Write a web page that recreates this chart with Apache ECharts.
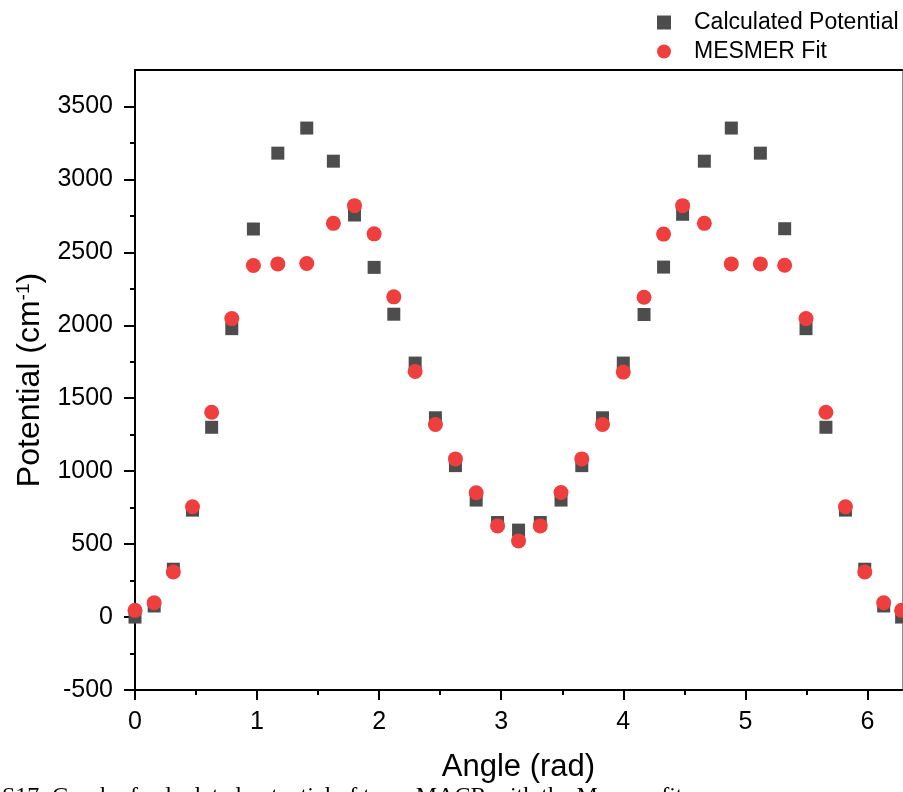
<!DOCTYPE html>
<html>
<head>
<meta charset="utf-8">
<script src="https://cdn.jsdelivr.net/npm/echarts@6/dist/echarts.min.js"></script>
<style>
  html, body { margin: 0; padding: 0; background: #ffffff; }
  #chart { width: 903px; height: 792px; }
</style>
</head>
<body>
<div id="chart"></div>
<script>
// Torsion angle (rad) of each scan point
const angles = [0, 0.157, 0.314, 0.471, 0.628, 0.793, 0.970, 1.170, 1.407, 1.625, 1.798, 1.959,
  2.120, 2.295, 2.461, 2.625, 2.795, 2.970, 3.142, 3.320, 3.490, 3.660, 3.830, 4.000, 4.170,
  4.330, 4.486, 4.664, 4.885, 5.123, 5.322, 5.497, 5.660, 5.820, 5.978, 6.133, 6.280];

// Calculated hindered-rotor potential (cm-1)
const calculated = [0, 76, 328, 733, 1301, 1977, 2660, 3180, 3352, 3125, 2756, 2397,
  2076, 1741, 1366, 1038, 802, 648, 596, 648, 802, 1038, 1366, 1741, 2074,
  2399, 2761, 3125, 3352, 3180, 2662, 1977, 1301, 733, 328, 76, 0];

// MESMER fitted potential (cm-1)
const mesmerFit = [46, 98, 309, 756, 1404, 2046, 2410, 2421, 2424, 2699, 2820, 2627,
  2195, 1684, 1320, 1084, 852, 625, 522, 625, 854, 1084, 1320, 1679, 2192,
  2625, 2820, 2699, 2421, 2421, 2412, 2046, 1404, 756, 309, 98, 46];

const seriesNames = ['Calculated Potential', 'MESMER Fit'];
const xTicks = [0, 1, 2, 3, 4, 5, 6];
const xMinorTicks = [0.5, 1.5, 2.5, 3.5, 4.5, 5.5];
const yTicks = [-500, 0, 500, 1000, 1500, 2000, 2500, 3000, 3500];
const yMinorTicks = [-250, 250, 750, 1250, 1750, 2250, 2750, 3250];
const captionText = 'S17: Graph of calculated potential of trans MACR with the Mesmer fit';

const X_MIN = 0, X_MAX = 2 * Math.PI, Y_MIN = -500, Y_MAX = 3750;
const FONT = '"Liberation Sans", Arial, sans-serif';

const chart = echarts.init(document.getElementById('chart'), null, { renderer: 'canvas' });

const pairs = (xs, ys) => xs.map((x, i) => [x, ys[i]]);
const plain = v => String(v);

const hidden = { show: false };

chart.setOption({
  animation: false,
  backgroundColor: '#ffffff',
  grid: { left: 135, right: 1, top: 70, bottom: 102, containLabel: false },
  legend: {
    orient: 'vertical',
    left: 652,
    top: 6,
    itemWidth: 14,
    itemHeight: 14,
    itemGap: 6,
    textStyle: { fontFamily: FONT, fontSize: 23, color: '#000', padding: [0, 0, 0, 18] },
    data: [
      { name: seriesNames[0], icon: 'rect' },
      { name: seriesNames[1], icon: 'circle' }
    ]
  },
  xAxis: [
    {
      type: 'value', min: X_MIN, max: X_MAX, position: 'bottom',
      axisLine: { show: true, onZero: false, lineStyle: { color: '#000', width: 2 } },
      axisTick: { show: true, customValues: xTicks, length: 10, lineStyle: { color: '#000', width: 2 } },
      axisLabel: { customValues: xTicks, formatter: plain, fontFamily: FONT, fontSize: 25, color: '#000', margin: 20 },
      splitLine: hidden,
      name: 'Angle (rad)', nameLocation: 'middle', nameGap: 62,
      nameTextStyle: { fontFamily: FONT, fontSize: 31, color: '#000' }
    },
    {
      type: 'value', min: X_MIN, max: X_MAX, position: 'bottom',
      axisLine: { show: false, onZero: false },
      axisTick: { show: true, customValues: xMinorTicks, length: 5, lineStyle: { color: '#000', width: 2 } },
      axisLabel: hidden, splitLine: hidden
    },
    {
      type: 'value', min: X_MIN, max: X_MAX, position: 'top',
      axisLine: { show: true, onZero: false, lineStyle: { color: '#000', width: 2 } },
      axisTick: hidden, axisLabel: hidden, splitLine: hidden
    }
  ],
  yAxis: [
    {
      type: 'value', min: Y_MIN, max: Y_MAX, position: 'left',
      axisLine: { show: true, onZero: false, lineStyle: { color: '#000', width: 2 } },
      axisTick: { show: true, customValues: yTicks, length: 11, lineStyle: { color: '#000', width: 2 } },
      axisLabel: { customValues: yTicks, formatter: plain, fontFamily: FONT, fontSize: 25, color: '#000', margin: 22 },
      splitLine: hidden,
      name: 'Potential (cm{sup|-1})', nameLocation: 'middle', nameGap: 86, nameRotate: 90,
      nameTextStyle: {
        fontFamily: FONT, fontSize: 32, color: '#000',
        rich: { sup: { fontFamily: FONT, fontSize: 19, color: '#000', verticalAlign: 'top', padding: [0, 0, 12, 0] } }
      }
    },
    {
      type: 'value', min: Y_MIN, max: Y_MAX, position: 'left',
      axisLine: { show: false, onZero: false },
      axisTick: { show: true, customValues: yMinorTicks, length: 5, lineStyle: { color: '#000', width: 2 } },
      axisLabel: hidden, splitLine: hidden
    },
    {
      type: 'value', min: Y_MIN, max: Y_MAX, position: 'right',
      axisLine: { show: true, onZero: false, lineStyle: { color: '#8c8c8c', width: 1 } },
      axisTick: hidden, axisLabel: hidden, splitLine: hidden
    }
  ],
  series: [
    {
      name: seriesNames[0], type: 'scatter', xAxisIndex: 0, yAxisIndex: 0,
      symbol: 'rect', symbolSize: 13,
      itemStyle: { color: '#4d4d4d', opacity: 1 },
      data: pairs(angles, calculated), z: 3
    },
    {
      name: seriesNames[1], type: 'scatter', xAxisIndex: 0, yAxisIndex: 0,
      symbol: 'circle', symbolSize: 15,
      itemStyle: { color: '#ef3e3e', opacity: 1 },
      data: pairs(angles, mesmerFit), z: 4
    }
  ],
  graphic: [
    {
      type: 'text', left: 2, top: 785, silent: true,
      style: { text: captionText, font: '24px "Liberation Serif", "Times New Roman", serif', fill: '#000' }
    }
  ]
});
</script>
</body>
</html>
